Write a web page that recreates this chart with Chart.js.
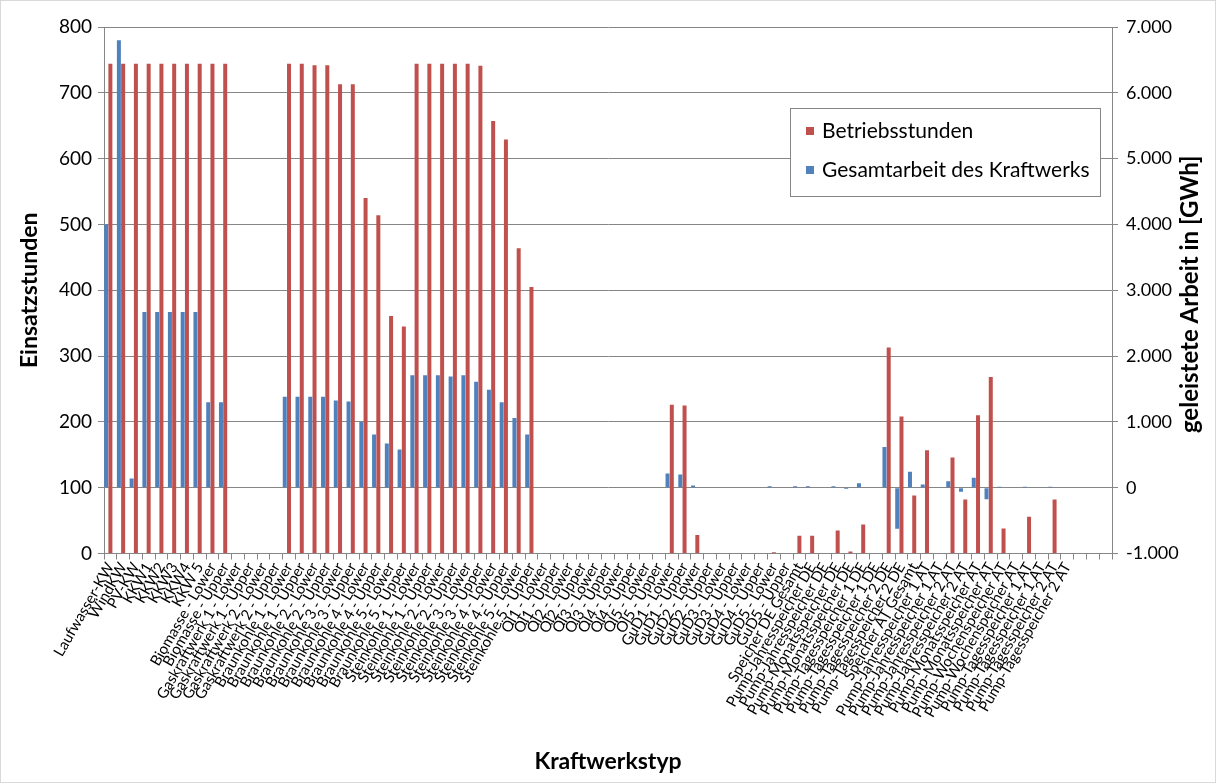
<!DOCTYPE html>
<html>
<head>
<meta charset="utf-8">
<script src="https://cdn.jsdelivr.net/npm/chart.js@4.4.1/dist/chart.umd.min.js"></script>
<style>
  html, body { margin: 0; padding: 0; background: #fff; }
  #wrap { width: 1216px; height: 783px; box-sizing: border-box; border: 1px solid #d9d9d9; }
</style>
</head>
<body>
<div id="wrap"><canvas id="myChart"></canvas></div>
<script>
// categories (x axis) - the last three categories have no label
const categories = [
  'Laufwasser-KW', 'WindKW', 'PV-KW', 'KKW1', 'KKW2', 'KKW3', 'KKW4', 'KKW 5',
  'Biomasse - Lower', 'Biomasse - Upper',
  'Gaskraftwerk 1 - Lower', 'Gaskraftwerk 1 - Upper', 'Gaskraftwerk 2 - Lower', 'Gaskraftwerk 2 - Upper',
  'Braunkohle 1 - Lower', 'Braunkohle 1 - Upper', 'Braunkohle 2 - Lower', 'Braunkohle 2 - Upper',
  'Braunkohle 3 - Lower', 'Braunkohle 3 - Upper', 'Braunkohle 4 - Lower', 'Braunkohle 4 - Upper',
  'Braunkohle 5 - Lower', 'Braunkohle 5 - Upper',
  'Steinkohle 1 - Lower', 'Steinkohle 1 - Upper', 'Steinkohle 2 - Lower', 'Steinkohle 2 - Upper',
  'Steinkohle 3 - Lower', 'Steinkohle 3 - Upper', 'Steinkohle 4 - Lower', 'Steinkohle 4 - Upper',
  'Steinkohle 5 - Lower', 'Steinkohle 5 - Upper',
  'Öl1 - Lower', 'Öl1 - Upper', 'Öl2 - Lower', 'Öl2 - Upper', 'Öl3 - Lower', 'Öl3 - Upper',
  'Öl4 - Lower', 'Öl4 - Upper', 'Öl5 - Lower', 'Öl5 - Upper',
  'GuD1 - Lower', 'GuD1 - Upper', 'GuD2 - Lower', 'GuD2 - Upper', 'GuD3 - Lower', 'GuD3 - Upper',
  'GuD4 - Lower', 'GuD4 - Upper', 'GuD5 - Lower', 'GuD5 - Upper',
  'Speicher DE Gesamt', 'Pump-Jahresspeicher DE', 'Pump-Jahresspeicher DE',
  'Pump-Monatsspeicher DE', 'Pump-Monatsspeicher DE', 'Pump-Tagesspeicher 1 DE', 'Pump-Tagesspeicher 1 DE',
  'Pump-Tagesspeicher 2 DE', 'Pump-Tagesspeicher 2 DE',
  'Speicher AT Gesamt', 'Pump-Jahresspeicher 1 AT', 'Pump-Jahresspeicher 1 AT',
  'Pump-Jahresspeicher 2 AT', 'Pump-Jahresspeicher 2 AT', 'Pump-Monatsspeicher AT', 'Pump-Monatsspeicher AT',
  'Pump-Wochenspeicher AT', 'Pump-Wochenspeicher AT', 'Pump-Tagesspeicher 1 AT', 'Pump-Tagesspeicher 1 AT',
  'Pump-Tagesspeicher 2 AT', 'Pump-Tagesspeicher 2 AT',
  '', '', ''
];

// Betriebsstunden [h] (left axis)
const betriebsstunden = [
  744, 744, 744, 744, 744, 744, 744, 744,
  744, 744,
  null, null, null, null,
  744, 744, 742, 742, 713, 713, 540, 514, 361, 345,
  744, 744, 744, 744, 744, 741, 657, 629, 464, 405,
  null, null, null, null, null, null, null, null, null, null,
  226, 225, 28, null, null, null, null, null, 2, null,
  27, 27, null, 35, 3, 44, null, 313, 208,
  88, 157, null, 146, 82, 210, 268, 38, null, 56, null, 82, null,
  null, null, null
];

// Gesamtarbeit des Kraftwerks [GWh] (right axis)
const gesamtarbeit = [
  4000, 6800, 140, 2670, 2670, 2670, 2670, 2670,
  1300, 1300,
  null, null, null, null,
  1380, 1380, 1380, 1380, 1325, 1310, 1000, 810, 670, 580,
  1710, 1710, 1710, 1690, 1710, 1610, 1490, 1300, 1060, 810,
  null, null, null, null, null, null, null, null, null, null,
  215, 200, 33, null, null, null, null, null, 20, null,
  20, 20, null, 20, -20, 66, null, 618, -623,
  243, 50, null, 96, -61, 152, -177, 15, null, 15, null, 15, null,
  null, null, null
];

const leftTitle = 'Einsatzstunden';
const rightTitle = 'geleistete Arbeit in [GWh]';
const xTitle = 'Kraftwerkstyp';

const RED = '#C0504D';
const BLUE = '#4F81BD';
const GRID = '#868686';
const FONT = 'Lato';

const fmtDE = (v) => String(v).replace(/\B(?=(\d{3})+(?!\d))/g, '.');

// right axis title reads bottom-to-top like the left one
const rightTitlePlugin = {
  id: 'rightTitle',
  afterDraw(chart) {
    const { ctx, chartArea: { top, bottom } } = chart;
    ctx.save();
    ctx.font = 'bold 24px ' + FONT;
    ctx.fillStyle = '#000';
    ctx.textAlign = 'center';
    ctx.textBaseline = 'middle';
    ctx.translate(1189, (top + bottom) / 2 + 4);
    ctx.rotate(-Math.PI / 2);
    ctx.fillText(rightTitle, 0, 0);
    ctx.restore();
  },
};

// legend box inside the plot
const boxLegendPlugin = {
  id: 'boxLegend',
  afterDraw(chart) {
    const { ctx } = chart;
    const items = [chart.data.datasets[1], chart.data.datasets[0]];
    ctx.save();
    ctx.fillStyle = '#fff';
    ctx.fillRect(789, 107, 310, 88);
    ctx.strokeStyle = GRID;
    ctx.lineWidth = 1;
    ctx.strokeRect(789.5, 107.5, 310, 88);
    ctx.font = '21px ' + FONT;
    ctx.textBaseline = 'middle';
    items.forEach((ds, i) => {
      const y = 130 + i * 39;
      ctx.fillStyle = ds.backgroundColor;
      ctx.fillRect(805, y - 4, 8, 8);
      ctx.fillStyle = '#000';
      ctx.fillText(ds.label, 821, y);
    });
    ctx.restore();
  },
};

const config = {
  type: 'bar',
  data: {
    labels: categories,
    datasets: [
      { label: 'Gesamtarbeit des Kraftwerks', data: gesamtarbeit, backgroundColor: BLUE, yAxisID: 'y2' },
      { label: 'Betriebsstunden', data: betriebsstunden, backgroundColor: RED, yAxisID: 'y' },
      // empty third slot, as in the source chart
      { label: '', data: [], yAxisID: 'y' },
    ],
  },
  options: {
    responsive: true,
    maintainAspectRatio: false,
    animation: false,
    layout: { padding: { top: 26, left: 0, right: 0, bottom: 0 } },
    datasets: { bar: { categoryPercentage: 1.0, barPercentage: 0.94 } },
    plugins: {
      legend: { display: false },
      tooltip: { enabled: false },
    },
    scales: {
      x: {
        afterFit: (s) => { s.height = 228.5; },
        grid: { offset: true, drawOnChartArea: false, drawTicks: true, tickLength: 6, color: GRID },
        border: { color: GRID },
        ticks: { autoSkip: false, minRotation: 60, maxRotation: 60, padding: 0, color: '#000', font: { family: FONT, size: 15 } },
        title: { display: true, text: xTitle, color: '#000', font: { family: FONT, size: 23, weight: 'bold' }, padding: { top: 0, bottom: 7 } },
      },
      y: {
        position: 'left',
        min: 0, max: 800,
        afterFit: (s) => { s.width = 103; },
        grid: { color: GRID, tickLength: 6 },
        border: { color: GRID },
        ticks: { stepSize: 100, padding: 6, color: '#000', font: { family: FONT, size: 19 } },
        title: { display: true, text: leftTitle, color: '#000', font: { family: FONT, size: 23, weight: 'bold' }, padding: { top: 15, bottom: 0 } },
      },
      y2: {
        position: 'right',
        min: -1000, max: 7000,
        afterFit: (s) => { s.width = 103; },
        grid: { drawOnChartArea: false, color: GRID, tickLength: 6 },
        border: { color: GRID },
        ticks: { stepSize: 1000, padding: 8, color: '#000', font: { family: FONT, size: 18 }, callback: (v) => fmtDE(v) },
      },
    },
  },
  plugins: [rightTitlePlugin, boxLegendPlugin],
};

new Chart(document.getElementById('myChart'), config);
</script>
</body>
</html>
